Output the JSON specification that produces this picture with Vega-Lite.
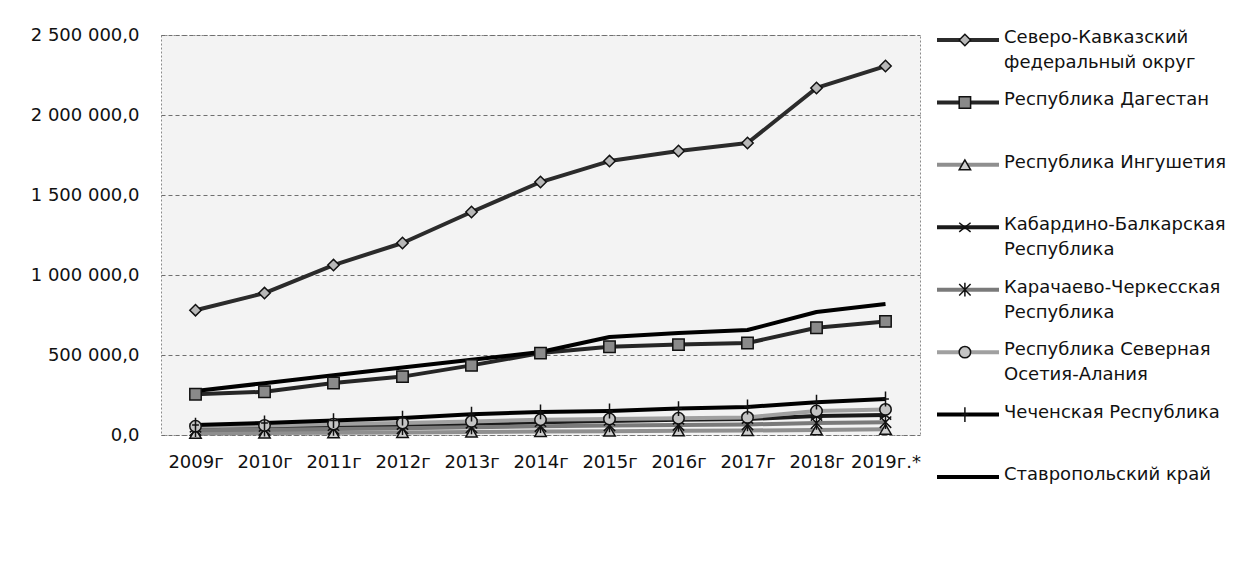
{
  "$schema": "https://vega.github.io/schema/vega-lite/v6.json",
  "padding": {"left": 29, "top": 25, "right": 5, "bottom": 5},
  "background": "white",
  "spacing": 14,
  "config": {
    "locale": {"number": {"decimal": ",", "thousands": " ", "grouping": [3], "currency": ["", ""]}},
    "font": "DejaVu Sans",
    "view": {"stroke": null}
  },
  "datasets": {
    "series": [
      {"year": "2009г", "region": "Северо-Кавказский федеральный округ", "value": 780000},
      {"year": "2010г", "region": "Северо-Кавказский федеральный округ", "value": 887000},
      {"year": "2011г", "region": "Северо-Кавказский федеральный округ", "value": 1062000},
      {"year": "2012г", "region": "Северо-Кавказский федеральный округ", "value": 1200000},
      {"year": "2013г", "region": "Северо-Кавказский федеральный округ", "value": 1394000},
      {"year": "2014г", "region": "Северо-Кавказский федеральный округ", "value": 1581000},
      {"year": "2015г", "region": "Северо-Кавказский федеральный округ", "value": 1712000},
      {"year": "2016г", "region": "Северо-Кавказский федеральный округ", "value": 1775000},
      {"year": "2017г", "region": "Северо-Кавказский федеральный округ", "value": 1825000},
      {"year": "2018г", "region": "Северо-Кавказский федеральный округ", "value": 2169000},
      {"year": "2019г.*", "region": "Северо-Кавказский федеральный округ", "value": 2306000},
      {"year": "2009г", "region": "Республика Дагестан", "value": 255000},
      {"year": "2010г", "region": "Республика Дагестан", "value": 270000},
      {"year": "2011г", "region": "Республика Дагестан", "value": 325000},
      {"year": "2012г", "region": "Республика Дагестан", "value": 365000},
      {"year": "2013г", "region": "Республика Дагестан", "value": 435000},
      {"year": "2014г", "region": "Республика Дагестан", "value": 512000},
      {"year": "2015г", "region": "Республика Дагестан", "value": 552000},
      {"year": "2016г", "region": "Республика Дагестан", "value": 565000},
      {"year": "2017г", "region": "Республика Дагестан", "value": 575000},
      {"year": "2018г", "region": "Республика Дагестан", "value": 670000},
      {"year": "2019г.*", "region": "Республика Дагестан", "value": 710000},
      {"year": "2009г", "region": "Республика Ингушетия", "value": 10000},
      {"year": "2010г", "region": "Республика Ингушетия", "value": 12000},
      {"year": "2011г", "region": "Республика Ингушетия", "value": 14000},
      {"year": "2012г", "region": "Республика Ингушетия", "value": 16000},
      {"year": "2013г", "region": "Республика Ингушетия", "value": 18000},
      {"year": "2014г", "region": "Республика Ингушетия", "value": 22000},
      {"year": "2015г", "region": "Республика Ингушетия", "value": 24000},
      {"year": "2016г", "region": "Республика Ингушетия", "value": 26000},
      {"year": "2017г", "region": "Республика Ингушетия", "value": 28000},
      {"year": "2018г", "region": "Республика Ингушетия", "value": 32000},
      {"year": "2019г.*", "region": "Республика Ингушетия", "value": 36000},
      {"year": "2009г", "region": "Кабардино-Балкарская Республика", "value": 45000},
      {"year": "2010г", "region": "Кабардино-Балкарская Республика", "value": 50000},
      {"year": "2011г", "region": "Кабардино-Балкарская Республика", "value": 55000},
      {"year": "2012г", "region": "Кабардино-Балкарская Республика", "value": 62000},
      {"year": "2013г", "region": "Кабардино-Балкарская Республика", "value": 70000},
      {"year": "2014г", "region": "Кабардино-Балкарская Республика", "value": 80000},
      {"year": "2015г", "region": "Кабардино-Балкарская Республика", "value": 88000},
      {"year": "2016г", "region": "Кабардино-Балкарская Республика", "value": 95000},
      {"year": "2017г", "region": "Кабардино-Балкарская Республика", "value": 100000},
      {"year": "2018г", "region": "Кабардино-Балкарская Республика", "value": 118000},
      {"year": "2019г.*", "region": "Кабардино-Балкарская Республика", "value": 125000},
      {"year": "2009г", "region": "Карачаево-Черкесская Республика", "value": 30000},
      {"year": "2010г", "region": "Карачаево-Черкесская Республика", "value": 33000},
      {"year": "2011г", "region": "Карачаево-Черкесская Республика", "value": 38000},
      {"year": "2012г", "region": "Карачаево-Черкесская Республика", "value": 42000},
      {"year": "2013г", "region": "Карачаево-Черкесская Республика", "value": 48000},
      {"year": "2014г", "region": "Карачаево-Черкесская Республика", "value": 55000},
      {"year": "2015г", "region": "Карачаево-Черкесская Республика", "value": 60000},
      {"year": "2016г", "region": "Карачаево-Черкесская Республика", "value": 63000},
      {"year": "2017г", "region": "Карачаево-Черкесская Республика", "value": 66000},
      {"year": "2018г", "region": "Карачаево-Черкесская Республика", "value": 75000},
      {"year": "2019г.*", "region": "Карачаево-Черкесская Республика", "value": 80000},
      {"year": "2009г", "region": "Республика Северная Осетия-Алания", "value": 55000},
      {"year": "2010г", "region": "Республика Северная Осетия-Алания", "value": 60000},
      {"year": "2011г", "region": "Республика Северная Осетия-Алания", "value": 68000},
      {"year": "2012г", "region": "Республика Северная Осетия-Алания", "value": 75000},
      {"year": "2013г", "region": "Республика Северная Осетия-Алания", "value": 85000},
      {"year": "2014г", "region": "Республика Северная Осетия-Алания", "value": 95000},
      {"year": "2015г", "region": "Республика Северная Осетия-Алания", "value": 100000},
      {"year": "2016г", "region": "Республика Северная Осетия-Алания", "value": 105000},
      {"year": "2017г", "region": "Республика Северная Осетия-Алания", "value": 110000},
      {"year": "2018г", "region": "Республика Северная Осетия-Алания", "value": 150000},
      {"year": "2019г.*", "region": "Республика Северная Осетия-Алания", "value": 160000},
      {"year": "2009г", "region": "Чеченская Республика", "value": 62000},
      {"year": "2010г", "region": "Чеченская Республика", "value": 75000},
      {"year": "2011г", "region": "Чеченская Республика", "value": 90000},
      {"year": "2012г", "region": "Чеченская Республика", "value": 106000},
      {"year": "2013г", "region": "Чеченская Республика", "value": 130000},
      {"year": "2014г", "region": "Чеченская Республика", "value": 144000},
      {"year": "2015г", "region": "Чеченская Республика", "value": 150000},
      {"year": "2016г", "region": "Чеченская Республика", "value": 165000},
      {"year": "2017г", "region": "Чеченская Республика", "value": 175000},
      {"year": "2018г", "region": "Чеченская Республика", "value": 205000},
      {"year": "2019г.*", "region": "Чеченская Республика", "value": 225000},
      {"year": "2009г", "region": "Ставропольский край", "value": 275000},
      {"year": "2010г", "region": "Ставропольский край", "value": 324000},
      {"year": "2011г", "region": "Ставропольский край", "value": 373000},
      {"year": "2012г", "region": "Ставропольский край", "value": 422000},
      {"year": "2013г", "region": "Ставропольский край", "value": 470000},
      {"year": "2014г", "region": "Ставропольский край", "value": 519000},
      {"year": "2015г", "region": "Ставропольский край", "value": 612000},
      {"year": "2016г", "region": "Ставропольский край", "value": 637000},
      {"year": "2017г", "region": "Ставропольский край", "value": 656000},
      {"year": "2018г", "region": "Ставропольский край", "value": 769000},
      {"year": "2019г.*", "region": "Ставропольский край", "value": 819000}
    ],
    "legendItems": [
      {"region": "Северо-Кавказский федеральный округ", "label": "Северо-Кавказский\nфедеральный округ"},
      {"region": "Республика Дагестан", "label": "Республика Дагестан"},
      {"region": "Республика Ингушетия", "label": "Республика Ингушетия"},
      {"region": "Кабардино-Балкарская Республика", "label": "Кабардино-Балкарская\nРеспублика"},
      {"region": "Карачаево-Черкесская Республика", "label": "Карачаево-Черкесская\nРеспублика"},
      {"region": "Республика Северная Осетия-Алания", "label": "Республика Северная\nОсетия-Алания"},
      {"region": "Чеченская Республика", "label": "Чеченская Республика"},
      {"region": "Ставропольский край", "label": "Ставропольский край"}
    ]
  },
  "hconcat": [
    {
      "width": 759,
      "height": 400,
      "view": {"fill": "#f3f3f3", "stroke": "#8a8a8a", "strokeDash": [2, 2]},
      "data": {"name": "series"},
      "encoding": {
        "x": {
          "field": "year", "type": "ordinal",
          "scale": {"type": "point", "padding": 0.5},
          "axis": {"title": null, "labelAngle": 0, "ticks": false, "domain": false, "labelFontSize": 18, "labelColor": "#111", "labelPadding": 18, "labelFont": "DejaVu Sans"}
        },
        "y": {
          "field": "value", "type": "quantitative",
          "scale": {"domain": [0, 2500000], "nice": false},
          "axis": {"title": null, "values": [0, 500000, 1000000, 1500000, 2000000, 2500000], "format": ",.1f", "ticks": false, "domain": false, "labelFontSize": 18, "labelColor": "#111", "labelPadding": 22, "gridColor": "#6f6f6f", "gridDash": [4, 3], "gridWidth": 1, "labelFont": "DejaVu Sans"}
        }
      },
      "layer": [
        {
          "mark": {"type": "line", "strokeJoin": "round"},
          "encoding": {
            "detail": {"field": "region"},
            "stroke": {
              "field": "region", "type": "nominal", "legend": null,
              "scale": {
                "domain": ["Северо-Кавказский федеральный округ", "Республика Дагестан", "Республика Ингушетия", "Кабардино-Балкарская Республика", "Карачаево-Черкесская Республика", "Республика Северная Осетия-Алания", "Чеченская Республика", "Ставропольский край"],
                "range": ["#2b2b2b", "#262626", "#8f8f8f", "#1a1a1a", "#7a7a7a", "#a0a0a0", "#000000", "#000000"]
              }
            },
            "strokeWidth": {
              "field": "region", "type": "nominal", "legend": null,
              "scale": {
                "domain": ["Северо-Кавказский федеральный округ", "Республика Дагестан", "Республика Ингушетия", "Кабардино-Балкарская Республика", "Карачаево-Черкесская Республика", "Республика Северная Осетия-Алания", "Чеченская Республика", "Ставропольский край"],
                "range": [4, 4, 3.5, 3, 3.5, 3.5, 3.5, 5]
              }
            }
          }
        },
        {
          "transform": [{"filter": "datum.region !== 'Ставропольский край'"}],
          "mark": {"type": "point", "filled": true, "stroke": "#111", "strokeWidth": 1.5, "size": 130, "opacity": 1},
          "encoding": {
            "fill": {
              "field": "region", "type": "nominal", "legend": null,
              "scale": {
                "domain": ["Северо-Кавказский федеральный округ", "Республика Дагестан", "Республика Ингушетия", "Кабардино-Балкарская Республика", "Карачаево-Черкесская Республика", "Республика Северная Осетия-Алания", "Чеченская Республика"],
                "range": ["#b8b8b8", "#8a8a8a", "#cfcfcf", "#1a1a1a", "#7a7a7a", "#c4c4c4", "#000000"]
              }
            },
            "shape": {
              "field": "region", "type": "nominal", "legend": null,
              "scale": {
                "domain": ["Северо-Кавказский федеральный округ", "Республика Дагестан", "Республика Ингушетия", "Кабардино-Балкарская Республика", "Карачаево-Черкесская Республика", "Республика Северная Осетия-Алания", "Чеченская Республика"],
                "range": ["diamond", "square", "triangle-up", "M-1,-0.8L1,0.8M-1,0.8L1,-0.8", "M-1,-1L1,1M-1,1L1,-1M0,-1.2L0,1.2", "circle", "M-0.6,0L0.6,0M0,-1.3L0,1.3"]
              }
            }
          }
        }
      ]
    },
    {
      "width": 62,
      "height": 447,
      "data": {"name": "legendItems"},
      "encoding": {
        "y": {
          "field": "region", "type": "nominal",
          "sort": ["Северо-Кавказский федеральный округ", "Республика Дагестан", "Республика Ингушетия", "Кабардино-Балкарская Республика", "Карачаево-Черкесская Республика", "Республика Северная Осетия-Алания", "Чеченская Республика", "Ставропольский край"],
          "scale": {"type": "point", "padding": 0.08},
          "axis": null
        }
      },
      "layer": [
        {
          "mark": {"type": "rule"},
          "encoding": {
            "x": {"datum": 0, "type": "quantitative", "scale": {"domain": [0, 1]}, "axis": null},
            "x2": {"datum": 1},
            "stroke": {
              "field": "region", "type": "nominal", "legend": null,
              "scale": {
                "domain": ["Северо-Кавказский федеральный округ", "Республика Дагестан", "Республика Ингушетия", "Кабардино-Балкарская Республика", "Карачаево-Черкесская Республика", "Республика Северная Осетия-Алания", "Чеченская Республика", "Ставропольский край"],
                "range": ["#2b2b2b", "#262626", "#8f8f8f", "#1a1a1a", "#7a7a7a", "#a0a0a0", "#000000", "#000000"]
              }
            },
            "strokeWidth": {
              "field": "region", "type": "nominal", "legend": null,
              "scale": {
                "domain": ["Северо-Кавказский федеральный округ", "Республика Дагестан", "Республика Ингушетия", "Кабардино-Балкарская Республика", "Карачаево-Черкесская Республика", "Республика Северная Осетия-Алания", "Чеченская Республика", "Ставропольский край"],
                "range": [4, 4, 3.5, 3, 3.5, 3.5, 3.5, 5]
              }
            }
          }
        },
        {
          "transform": [{"filter": "datum.region !== 'Ставропольский край'"}],
          "mark": {"type": "point", "filled": true, "stroke": "#111", "strokeWidth": 1.5, "size": 130, "opacity": 1},
          "encoding": {
            "x": {"datum": 0.45, "type": "quantitative", "scale": {"domain": [0, 1]}, "axis": null},
            "fill": {
              "field": "region", "type": "nominal", "legend": null,
              "scale": {
                "domain": ["Северо-Кавказский федеральный округ", "Республика Дагестан", "Республика Ингушетия", "Кабардино-Балкарская Республика", "Карачаево-Черкесская Республика", "Республика Северная Осетия-Алания", "Чеченская Республика"],
                "range": ["#b8b8b8", "#8a8a8a", "#cfcfcf", "#1a1a1a", "#7a7a7a", "#c4c4c4", "#000000"]
              }
            },
            "shape": {
              "field": "region", "type": "nominal", "legend": null,
              "scale": {
                "domain": ["Северо-Кавказский федеральный округ", "Республика Дагестан", "Республика Ингушетия", "Кабардино-Балкарская Республика", "Карачаево-Черкесская Республика", "Республика Северная Осетия-Алания", "Чеченская Республика"],
                "range": ["diamond", "square", "triangle-up", "M-1,-0.8L1,0.8M-1,0.8L1,-0.8", "M-1,-1L1,1M-1,1L1,-1M0,-1.2L0,1.2", "circle", "M-0.6,0L0.6,0M0,-1.3L0,1.3"]
              }
            }
          }
        },
        {
          "mark": {"type": "text", "align": "left", "baseline": "top", "dx": 5, "dy": -11, "fontSize": 18, "lineHeight": 25, "lineBreak": "\n", "font": "DejaVu Sans", "color": "#111"},
          "encoding": {
            "x": {"datum": 1, "type": "quantitative", "scale": {"domain": [0, 1]}, "axis": null},
            "text": {"field": "label"}
          }
        }
      ]
    }
  ]
}
